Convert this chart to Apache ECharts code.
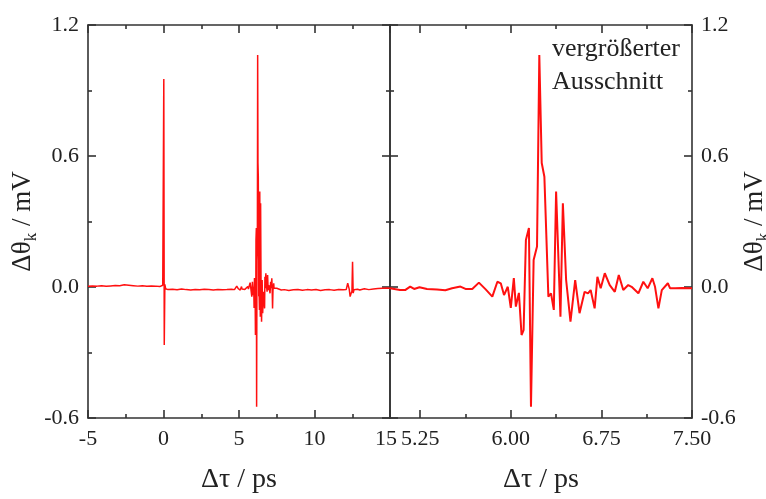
<!DOCTYPE html>
<html>
<head>
<meta charset="utf-8">
<script src="https://cdn.jsdelivr.net/npm/echarts@6/dist/echarts.min.js"></script>
<style>
html,body{margin:0;padding:0;background:#fff;}
#chart{width:766px;height:499px;}
</style>
</head>
<body>
<div id="chart"></div>
<script>
// ---- data (Δτ in ps, Δθk in mV) ----
const preTau = [-5, -4.7, -4.4, -4.1, -3.8, -3.5, -3.2, -2.9, -2.6, -2.3, -2.0, -1.7, -1.4, -1.1, -0.8, -0.5, -0.25, -0.05, 0.02, 0.05, 0.09, 0.14, 0.3, 0.6, 0.9, 1.2, 1.5, 1.8, 2.1, 2.4, 2.7, 3.0, 3.3, 3.6, 3.9, 4.2, 4.5, 4.7, 4.85, 4.95];
const preVal = [0.003, 0.005, 0.004, 0.006, 0.003, 0.005, 0.007, 0.006, 0.010, 0.008, 0.006, 0.004, 0.006, 0.003, 0.005, 0.004, 0.002, 0.008, 0.953, -0.266, 0.012, -0.008, -0.012, -0.010, -0.013, -0.009, -0.012, -0.014, -0.011, -0.013, -0.010, -0.012, -0.014, -0.011, -0.013, -0.012, -0.010, -0.012, 0.004, -0.008];

const echoTau = [5.000, 5.083, 5.125, 5.167, 5.200, 5.244, 5.306, 5.389, 5.458, 5.514, 5.583, 5.625, 5.681, 5.736, 5.792, 5.847, 5.889, 5.917, 5.944, 5.975, 6.000, 6.025, 6.042, 6.067, 6.089, 6.106, 6.125, 6.150, 6.167, 6.189, 6.217, 6.236, 6.256, 6.278, 6.311, 6.333, 6.356, 6.375, 6.411, 6.431, 6.458, 6.494, 6.533, 6.569, 6.611, 6.639, 6.661, 6.694, 6.717, 6.744, 6.778, 6.819, 6.861, 6.894, 6.931, 6.972, 7.000, 7.056, 7.097, 7.133, 7.172, 7.194, 7.222, 7.250, 7.300, 7.319, 7.361, 7.417, 7.500];
const echoVal = [-0.006, -0.014, -0.014, 0.002, -0.009, -0.001, -0.009, -0.011, -0.015, -0.006, 0.002, -0.009, -0.009, 0.020, -0.011, -0.044, 0.024, 0.017, -0.037, 0.001, -0.096, 0.041, -0.090, -0.027, -0.220, -0.197, 0.215, 0.270, -0.548, 0.124, 0.185, 1.063, 0.568, 0.505, -0.044, -0.029, -0.105, 0.437, -0.136, 0.383, 0.032, -0.159, 0.032, -0.120, -0.022, -0.029, -0.014, -0.098, 0.047, -0.006, 0.063, 0.009, -0.022, 0.055, -0.014, 0.009, 0.001, -0.029, 0.024, -0.006, 0.040, 0.001, -0.098, -0.014, 0.017, -0.006, -0.006, -0.005, -0.006];

const postTau = [7.6, 7.8, 8.0, 8.3, 8.6, 8.9, 9.2, 9.5, 9.8, 10.1, 10.4, 10.7, 11.0, 11.3, 11.6, 11.9, 12.1, 12.2, 12.3, 12.36, 12.42, 12.48, 12.52, 12.56, 12.62, 12.7, 12.85, 13.0, 13.3, 13.6, 13.9, 14.2, 14.5, 14.8, 15.0];
const postVal = [-0.010, -0.014, -0.012, -0.016, -0.013, -0.011, -0.015, -0.012, -0.014, -0.011, -0.016, -0.013, -0.012, -0.015, -0.011, -0.013, -0.012, 0.017, -0.010, -0.044, -0.030, -0.020, 0.116, -0.028, -0.012, -0.018, -0.010, -0.014, -0.008, -0.012, -0.009, -0.007, -0.006, -0.005, -0.006];

const leftXTicks = [-5, 0, 5, 10, 15];
const rightXMajor = [5.25, 6.00, 6.75, 7.50];
const rightXMinor = [5.625, 6.375, 7.125];
const yTicks = [-0.6, 0.0, 0.6, 1.2];

const xName = 'Δτ / ps';
const yName = '{a|Δθ}{s|k}{a| / mV}';
const noteText = 'vergrößerter\nAusschnitt';

// ---- build ----
const pairs = (t, v) => t.map((x, i) => [x, v[i]]);
const fullTrace = pairs(preTau, preVal).concat(pairs(echoTau, echoVal), pairs(postTau, postVal));
const zoomTrace = pairs(echoTau, echoVal);

const FONT = '"Liberation Serif", "Times New Roman", serif';
const TXT = '#222';
const AX = '#333';
const lineStyleAxis = { color: AX, width: 1.6 };

const yNameStyle = {
  fontFamily: FONT, color: TXT,
  rich: {
    a: { fontFamily: FONT, fontSize: 27, color: TXT, lineHeight: 34, verticalAlign: 'middle' },
    s: { fontFamily: FONT, fontSize: 17, color: TXT, lineHeight: 17, verticalAlign: 'bottom' }
  }
};
const xNameStyle = { fontFamily: FONT, fontSize: 28, color: TXT };
const labelBase = { fontFamily: FONT, fontSize: 22, color: TXT };

const yMin = yTicks[0], yMax = yTicks[yTicks.length - 1], yInt = yTicks[1] - yTicks[0];
const leftMax = leftXTicks[leftXTicks.length - 1];

function yAxisCfg(grid, pos, showLabel, withName, gap) {
  return {
    type: 'value', gridIndex: grid, position: pos,
    min: yMin, max: yMax, interval: yInt,
    axisLine: { show: true, onZero: false, lineStyle: lineStyleAxis },
    axisTick: { show: true, inside: true, length: 8, lineStyle: lineStyleAxis },
    minorTick: { show: true, splitNumber: 2, length: 4, lineStyle: lineStyleAxis },
    splitLine: { show: false },
    axisLabel: { show: showLabel, margin: 9, formatter: v => v.toFixed(1), ...labelBase },
    name: withName ? yName : '',
    nameLocation: 'middle', nameRotate: 90, nameGap: gap || 42,
    nameTextStyle: yNameStyle
  };
}

const gridBox = { top: 25, width: 302, height: 393, containLabel: false, outerBoundsMode: 'none' };

const option = {
  animation: false,
  backgroundColor: '#fff',
  grid: [
    Object.assign({ left: 88 }, gridBox),
    Object.assign({ left: 390 }, gridBox),
    Object.assign({ left: 390 }, gridBox)
  ],
  xAxis: [
    {
      type: 'value', gridIndex: 0, position: 'bottom',
      min: leftXTicks[0], max: leftMax, interval: leftXTicks[1] - leftXTicks[0],
      axisLine: { show: true, onZero: false, lineStyle: lineStyleAxis },
      axisTick: { show: true, inside: true, length: 8, lineStyle: lineStyleAxis },
      minorTick: { show: true, splitNumber: 2, length: 4, lineStyle: lineStyleAxis },
      splitLine: { show: false },
      axisLabel: {
        show: true, margin: 10, ...labelBase,
        formatter: v => (v === leftMax ? '{r|' + v + '}' : String(v)),
        rich: { r: { fontFamily: FONT, fontSize: 22, color: TXT, padding: [0, 8, 0, 0] } }
      },
      name: xName, nameLocation: 'middle', nameGap: 48, nameTextStyle: xNameStyle
    },
    {
      type: 'value', gridIndex: 0, position: 'top',
      min: leftXTicks[0], max: leftMax, interval: leftXTicks[1] - leftXTicks[0],
      axisLine: { show: true, onZero: false, lineStyle: lineStyleAxis },
      axisTick: { show: true, inside: true, length: 8, lineStyle: lineStyleAxis },
      minorTick: { show: true, splitNumber: 2, length: 4, lineStyle: lineStyleAxis },
      splitLine: { show: false },
      axisLabel: { show: false }
    },
    {
      type: 'value', gridIndex: 1, position: 'bottom',
      min: 5.0, max: 7.5,
      axisLine: { show: true, onZero: false, lineStyle: lineStyleAxis },
      axisTick: { show: true, inside: true, length: 8, customValues: rightXMajor, lineStyle: lineStyleAxis },
      splitLine: { show: false },
      axisLabel: { show: true, margin: 10, customValues: rightXMajor, formatter: v => v.toFixed(2), ...labelBase },
      name: xName, nameLocation: 'middle', nameGap: 48, nameTextStyle: xNameStyle
    },
    {
      type: 'value', gridIndex: 1, position: 'top',
      min: 5.0, max: 7.5,
      axisLine: { show: true, onZero: false, lineStyle: lineStyleAxis },
      axisTick: { show: true, inside: true, length: 8, customValues: rightXMajor, lineStyle: lineStyleAxis },
      splitLine: { show: false },
      axisLabel: { show: false }
    },
    {
      type: 'value', gridIndex: 2, position: 'bottom',
      min: 5.0, max: 7.5,
      axisLine: { show: false, onZero: false },
      axisTick: { show: true, inside: true, length: 4, customValues: rightXMinor, lineStyle: lineStyleAxis },
      splitLine: { show: false },
      axisLabel: { show: false }
    },
    {
      type: 'value', gridIndex: 2, position: 'top',
      min: 5.0, max: 7.5,
      axisLine: { show: false, onZero: false },
      axisTick: { show: true, inside: true, length: 4, customValues: rightXMinor, lineStyle: lineStyleAxis },
      splitLine: { show: false },
      axisLabel: { show: false }
    }
  ],
  yAxis: [
    yAxisCfg(0, 'left', true, true, 39),
    yAxisCfg(0, 'right', false, false),
    yAxisCfg(1, 'left', false, false),
    yAxisCfg(1, 'right', true, true, 46),
    { type: 'value', gridIndex: 2, min: yMin, max: yMax, show: false }
  ],
  series: [
    {
      type: 'line', xAxisIndex: 0, yAxisIndex: 0, data: fullTrace,
      showSymbol: false, symbol: 'none', clip: true,
      lineStyle: { color: '#ff1010', width: 1.5 }
    },
    {
      type: 'line', xAxisIndex: 2, yAxisIndex: 2, data: zoomTrace,
      showSymbol: false, symbol: 'none', clip: true,
      lineStyle: { color: '#ff1010', width: 2 }
    }
  ],
  graphic: [
    {
      type: 'text', left: 552, top: 33,
      style: { text: noteText, font: '26px ' + FONT, fill: TXT, lineHeight: 33 }
    }
  ]
};

const chart = echarts.init(document.getElementById('chart'), null, { renderer: 'canvas' });
chart.setOption(option);
</script>
</body>
</html>
